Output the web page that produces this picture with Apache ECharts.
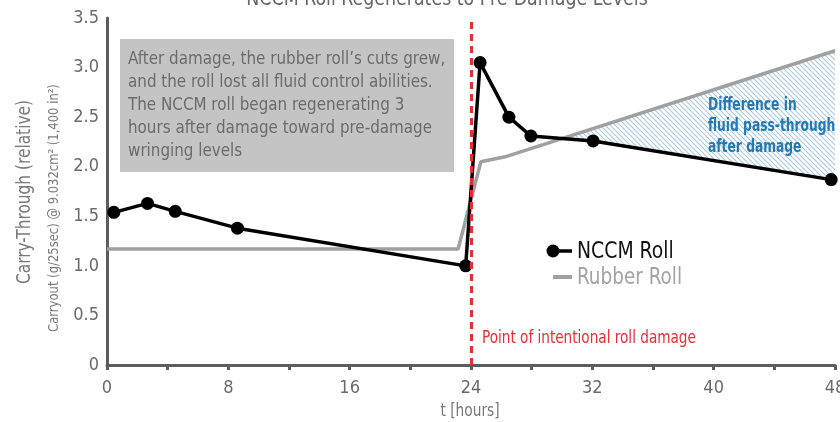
<!DOCTYPE html>
<html>
<head>
<meta charset="utf-8">
<script src="https://cdn.jsdelivr.net/npm/echarts@6/dist/echarts.min.js"></script>
<style>
html,body{margin:0;padding:0;background:#fff;overflow:hidden;}
#chart{width:840px;height:422px;}
</style>
</head>
<body>
<div id="chart"></div>
<script>
// ---- data ----
var nccmHours  = [0.45, 2.67, 4.5, 8.6, 23.65, 24.6, 26.5, 27.95, 32.05, 47.75];
var nccmValues = [1.54, 1.63, 1.55, 1.38, 1.0, 3.05, 2.5, 2.31, 2.26, 1.87];
var rubberHours  = [0, 23.15, 24.65, 26.25, 48];
var rubberValues = [1.17, 1.17, 2.05, 2.10, 3.17];
// hatched "difference" region outline (upper edge = rubber, lower edge = NCCM)
var hatchHours  = [30.0, 48, 48, 47.75, 32.05];
var hatchValues = [2.285, 3.17, 1.865, 1.87, 2.26];
var damageHour = 24;
var xTickLabels = ['0', '8', '16', '24', '32', '40', '48'];
var yTickLabels = ['0', '0.5', '1.0', '1.5', '2.0', '2.5', '3.0', '3.5'];

var FONT = '"DejaVu Sans Condensed", "Liberation Sans Narrow", "Roboto", sans-serif';

function pairs(xs, ys) { return xs.map(function (x, i) { return [x, ys[i]]; }); }

// hatch pattern
var pat = document.createElement('canvas');
var S = 5;
pat.width = S; pat.height = S;
var pc = pat.getContext('2d');
pc.fillStyle = '#ffffff';
pc.fillRect(0, 0, S, S);
pc.strokeStyle = '#a9cbe3';
pc.lineWidth = 1.2;
pc.beginPath();
pc.moveTo(0, 0); pc.lineTo(S, S);
pc.moveTo(-1, S - 1); pc.lineTo(1, S + 1);
pc.moveTo(S - 1, -1); pc.lineTo(S + 1, 1);
pc.stroke();

var chart = echarts.init(document.getElementById('chart'), null, {renderer: 'canvas'});

function txt(x, y, text, font, fill, sx, extra) {
  var style = {text: text, fill: fill, font: font};
  if (extra) { for (var k in extra) { style[k] = extra[k]; } }
  return {type: 'text', x: x, y: y, scaleX: sx, z: 6, style: style};
}

var option = {
  animation: false,
  backgroundColor: '#ffffff',
  grid: {left: 107, right: 5, top: 18, bottom: 57, containLabel: false, outerBoundsMode: 'none'},
  xAxis: {
    type: 'value', min: 0, max: 48, interval: 4,
    axisLine: {show: true, lineStyle: {color: '#5c5c5c', width: 3}},
    axisTick: {show: true, length: 5, lineStyle: {color: '#5c5c5c', width: 3}},
    splitLine: {show: false},
    axisLabel: {
      color: '#6a6a6a', fontSize: 18, fontFamily: FONT, margin: 14,
      formatter: function (v) { return v % 8 === 0 ? xTickLabels[v / 8] : ''; }
    }
  },
  yAxis: {
    type: 'value', min: 0, max: 3.5, interval: 0.5,
    axisLine: {show: true, lineStyle: {color: '#5c5c5c', width: 3}},
    axisTick: {show: false},
    splitLine: {show: false},
    axisLabel: {
      color: '#6a6a6a', fontSize: 18, fontFamily: FONT, margin: 8,
      formatter: function (v) { return yTickLabels[Math.round(v / 0.5)]; }
    }
  },
  series: [
    {
      type: 'custom',
      name: 'diff',
      silent: true,
      z: 1,
      data: [0],
      renderItem: function (params, api) {
        var pts = hatchHours.map(function (h, i) { return api.coord([h, hatchValues[i]]); });
        return {
          type: 'polygon',
          shape: {points: pts},
          style: {fill: {image: pat, repeat: 'repeat'}, stroke: null}
        };
      }
    },
    {
      type: 'line',
      name: 'Rubber Roll',
      data: pairs(rubberHours, rubberValues),
      showSymbol: false,
      symbol: 'none',
      z: 2,
      lineStyle: {color: '#a0a0a0', width: 3.5},
      markLine: {
        silent: true,
        symbol: ['none', 'none'],
        label: {show: false},
        lineStyle: {color: '#ee2a32', width: 3, type: [7, 5]},
        data: [{xAxis: damageHour}]
      }
    },
    {
      type: 'line',
      name: 'NCCM Roll',
      data: pairs(nccmHours, nccmValues),
      symbol: 'circle',
      symbolSize: 13,
      z: 4,
      lineStyle: {color: '#000000', width: 3.5},
      itemStyle: {color: '#000000'}
    }
  ],
  graphic: [
    // title (cut off at top)
    txt(447, 10, 'NCCM Roll Regenerates to Pre-Damage Levels', '22px ' + FONT, '#666', 0.88,
      {align: 'center', verticalAlign: 'bottom'}),
    // annotation box
    {type: 'rect', shape: {x: 120, y: 39, width: 334, height: 133}, style: {fill: '#c4c4c4'}, z: 5},
    txt(128, 48,
      'After damage, the rubber roll\u2019s cuts grew,\nand the roll lost all fluid control abilities.\nThe NCCM roll began regenerating 3\nhours after damage toward pre-damage\nwringing levels',
      '18.5px ' + FONT, '#6b6b6b', 0.91, {lineHeight: 23}),
    // difference label
    txt(708, 95, 'Difference in\nfluid pass-through\nafter damage', 'bold 17.5px ' + FONT, '#2379b6', 0.78,
      {lineHeight: 21}),
    // damage label
    txt(482, 339, 'Point of intentional roll damage', '17px ' + FONT, '#ee2a32', 0.89,
      {verticalAlign: 'middle'}),
    // legend
    {type: 'line', shape: {x1: 553, y1: 251, x2: 572, y2: 251}, style: {stroke: '#000', lineWidth: 3.5}, z: 6},
    {type: 'circle', shape: {cx: 553, cy: 251, r: 6.5}, style: {fill: '#000'}, z: 6},
    txt(577, 252, 'NCCM Roll', '23px ' + FONT, '#111', 0.91, {verticalAlign: 'middle'}),
    {type: 'line', shape: {x1: 553, y1: 277, x2: 572, y2: 277}, style: {stroke: '#a0a0a0', lineWidth: 4}, z: 6},
    txt(577, 278, 'Rubber Roll', '23px ' + FONT, '#a3a3a3', 0.89, {verticalAlign: 'middle'}),
    // axis names
    txt(470, 411, 't [hours]', '18px ' + FONT, '#777', 0.85, {align: 'center', verticalAlign: 'middle'}),
    {type: 'text', x: 25, y: 192, rotation: Math.PI / 2, scaleX: 0.9, z: 6,
      style: {text: 'Carry-Through (relative)', fill: '#7a7a7a', font: '19px ' + FONT, align: 'center', verticalAlign: 'middle'}},
    {type: 'text', x: 54, y: 208, rotation: Math.PI / 2, scaleX: 0.92, z: 6,
      style: {text: 'Carryout (g/25sec) @ 9.032cm\u00b2 (1,400 in\u00b2)', fill: '#7a7a7a', font: '14px ' + FONT, align: 'center', verticalAlign: 'middle'}}
  ]
};
chart.setOption(option);
</script>
</body>
</html>
